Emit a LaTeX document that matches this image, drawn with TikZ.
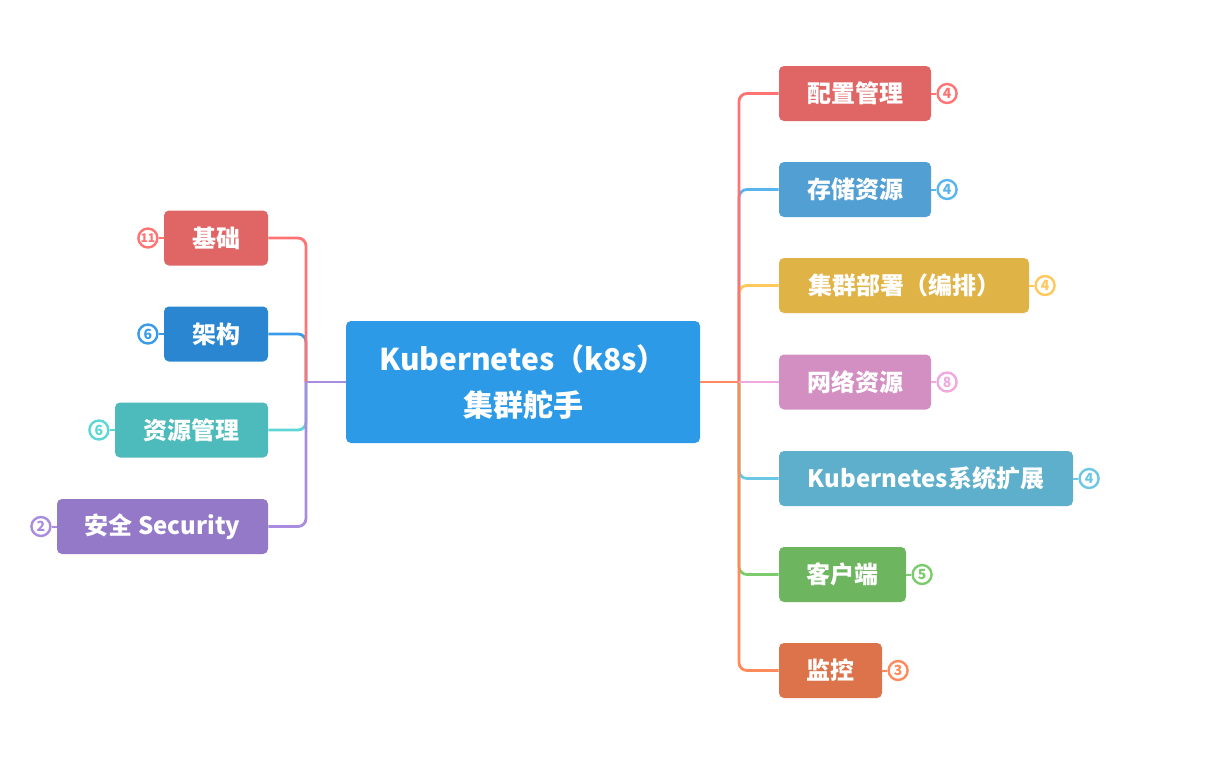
\documentclass[tikz,border=0pt]{standalone}
\usepackage{fontspec}
\setmainfont{Noto Sans CJK SC}
\usepackage{tikz}
\usetikzlibrary{positioning}

\definecolor{bred}{HTML}{E06666}
\definecolor{lred}{HTML}{FF7373}
\definecolor{bblue}{HTML}{2A86D1}
\definecolor{lblue}{HTML}{3A9BE8}
\definecolor{bteal}{HTML}{4DBBBB}
\definecolor{lteal}{HTML}{5ED6D6}
\definecolor{bpurple}{HTML}{9479C8}
\definecolor{lpurple}{HTML}{A98BE0}
\definecolor{bmain}{HTML}{2D9AE8}
\definecolor{bsky}{HTML}{529FD4}
\definecolor{lsky}{HTML}{5AB4EE}
\definecolor{byellow}{HTML}{E0B347}
\definecolor{lyellow}{HTML}{FFC85A}
\definecolor{bpink}{HTML}{D48FC2}
\definecolor{lpink}{HTML}{F0A8DE}
\definecolor{bcyan}{HTML}{5DAFCB}
\definecolor{lcyan}{HTML}{6BC8E4}
\definecolor{bgreen}{HTML}{6DB65F}
\definecolor{lgreen}{HTML}{7CCB6C}
\definecolor{borange}{HTML}{DC734A}
\definecolor{lorange}{HTML}{FF8A5B}

\begin{document}
\begin{tikzpicture}[x=0.5pt, y=-0.5pt,
	box/.style={rounded corners=2.5pt, minimum height=27.5pt, inner sep=0pt,
		text=white, font=\fontsize{12}{14}\selectfont\bfseries},
	num/.style={draw=#1, line width=1.2pt, fill=white, circle, minimum size=9.5pt,
		inner sep=0pt, text=#1, font=\fontsize{7}{7}\selectfont\bfseries},
	link/.style={line width=1.4pt, rounded corners=4pt}]
	\useasboundingbox (0,0) rectangle (1207,771);
	% centre
	\node[box, fill=bmain, minimum width=177pt, minimum height=61pt, align=center,
		font=\fontsize{15}{23}\selectfont\bfseries] (main) at (523, 382) {Kubernetes（k8s）\\集群舵手};
	% left side
	\node[box, fill=bred, minimum width=52pt] (base) at (216, 238) {基础};
	\node[box, fill=bblue, minimum width=52pt] (arch) at (216, 334) {架构};
	\node[box, fill=bteal, minimum width=76.5pt] (res) at (191.5, 430) {资源管理};
	\node[box, fill=bpurple, minimum width=105.5pt] (sec) at (162.5, 526.5) {安全 Security};
	\node[num=lred, left=2.5pt of base, font=\fontsize{6}{6}\selectfont\bfseries] (nbase) {11};
	\node[num=lblue, left=2.5pt of arch] (narch) {6};
	\node[num=lteal, left=2.5pt of res] (nres) {6};
	\node[num=lpurple, left=2.5pt of sec] (nsec) {2};
	% right side
	\node[box, fill=bred, minimum width=76pt] (cfg) at (855, 93.5) {配置管理};
	\node[box, fill=bsky, minimum width=76pt] (sto) at (855, 189.5) {存储资源};
	\node[box, fill=byellow, minimum width=125pt] (dep) at (904, 285.5) {集群部署（编排）};
	\node[box, fill=bpink, minimum width=76pt] (net) at (855, 382) {网络资源};
	\node[box, fill=bcyan, minimum width=147pt] (ext) at (926, 478.5) {Kubernetes系统扩展};
	\node[box, fill=bgreen, minimum width=63.5pt] (cli) at (842.5, 574.5) {客户端};
	\node[box, fill=borange, minimum width=51.5pt] (mon) at (830.5, 670.5) {监控};
	\node[num=lred, right=2.5pt of cfg] (ncfg) {4};
	\node[num=lsky, right=2.5pt of sto] (nsto) {4};
	\node[num=lyellow, right=2.5pt of dep] (ndep) {4};
	\node[num=lpink, right=2.5pt of net] (nnet) {8};
	\node[num=lcyan, right=2.5pt of ext] (next) {4};
	\node[num=lgreen, right=2.5pt of cli] (ncli) {5};
	\node[num=lorange, right=2.5pt of mon] (nmon) {3};
	\coordinate (lj) at (306, 382);
	\coordinate (rj) at (739, 382);
	% left branches
	\draw[link, lteal] (res.east) -| (lj);
	\draw[link, lblue] (arch.east) -| (lj);
	\draw[link, lpurple] (sec.east) -| (lj);
	\draw[link, lred] (base.east) -| (lj);
	\draw[link, lpurple] (main.west) to (lj);
	% right branches
	\draw[link, lsky] (rj) |- (sto.west);
	\draw[link, lyellow] (rj) |- (dep.west);
	\draw[link, lcyan] (rj) |- (ext.west);
	\draw[link, lgreen] (rj) |- (cli.west);
	\draw[link, lred] (rj) |- (cfg.west);
	\draw[link, lorange] (rj) |- (mon.west);
	\draw[link, lpink] (rj) to (net.west);
	\draw[link, lorange] (main.east) to (rj);
	% counters
	\draw[lred, line width=1pt] (nbase) to (base);
	\draw[lblue, line width=1pt] (narch) to (arch);
	\draw[lteal, line width=1pt] (nres) to (res);
	\draw[lpurple, line width=1pt] (nsec) to (sec);
	\draw[lred, line width=1pt] (ncfg) to (cfg);
	\draw[lsky, line width=1pt] (nsto) to (sto);
	\draw[lyellow, line width=1pt] (ndep) to (dep);
	\draw[lpink, line width=1pt] (nnet) to (net);
	\draw[lcyan, line width=1pt] (next) to (ext);
	\draw[lgreen, line width=1pt] (ncli) to (cli);
	\draw[lorange, line width=1pt] (nmon) to (mon);
\end{tikzpicture}
\end{document}
